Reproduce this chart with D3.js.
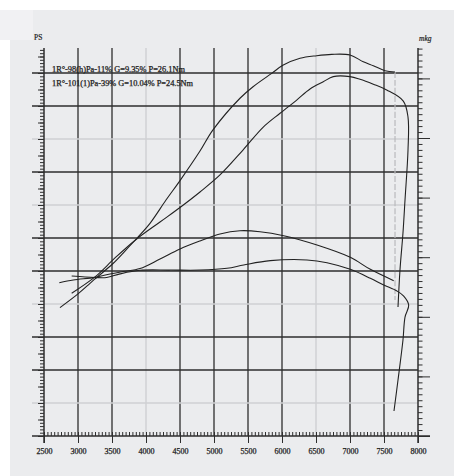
<!DOCTYPE html>
<html><head><meta charset="utf-8">
<script src="https://cdn.jsdelivr.net/npm/d3@7"></script>
<style>
html,body{margin:0;padding:0;background:#fff;}
svg{display:block;}
text{font-family:"Liberation Serif","DejaVu Serif",serif;fill:#222;}
</style></head>
<body>
<svg id="chart" width="454" height="476"></svg>
<script>
// ---------- data ----------
const rpmTicks = [2500,3000,3500,4000,4500,5000,5500,6000,6500,7000,7500,8000];
const rpmLabels = ["2500","3000","3500","4000","4500","5000","5500","6000","6500","7000","7500","8000"];
const legendLines = ["1R°-98(h)Pa-11% G=9.35% P=26.1Nm","1R°-101(1)Pa-39% G=10.04% P=24.5Nm"];
const psGrid = [2,4,6,8,10,12,14,16,18,20,22];
const lightPsGrid = [2,8,14,18];
const lightRpmGrid = [4000,6500];

// power (PS) run 1
const p1Rpm = [2735,3000,3176,3250,3519,3691,3863,4059,4294,4500,4794,4985,5382,5574,5849,6019,6265,6510,6731,7000,7196,7343,7515,7662];
const p1PS  = [7.78,8.61,9.25,9.52,10.47,11.21,11.97,12.89,14.30,15.48,17.27,18.55,20.47,21.17,21.98,22.48,22.89,23.05,23.13,23.09,22.68,22.44,22.14,22.06];
const p1DropRpm = [7662,7662,7662,7662];
const p1DropPS  = [22.06,17.33,12.48,8.24];
// power (PS) run 2
const p2Rpm = [2907,3250,3544,3863,4206,4500,4794,5088,5426,5721,5971,6216,6412,6607,6754,7000,7147,7343,7540,7784,7853,7853,7809,7779,7735,7706];
const p2PS  = [8.65,9.64,10.79,11.94,12.97,13.85,14.79,15.82,17.33,18.71,19.56,20.36,21.03,21.47,21.78,21.78,21.62,21.32,20.97,20.30,19.33,17.33,14.30,12.30,10.06,7.82];
// torque (mkg) run 1
const t1Rpm = [2725,2931,3250,3471,3662,3912,4206,4500,4794,5088,5382,5676,6025,6515,7004,7299,7643];
const t1Mkg = [2.286,2.309,2.331,2.359,2.380,2.405,2.485,2.569,2.636,2.695,2.722,2.714,2.680,2.602,2.499,2.398,2.303];
// torque (mkg) run 2
const t2Rpm = [2907,3103,3250,3422,3618,3912,4353,4794,5191,5437,5828,6368,6662,7004,7299,7496,7691,7790,7863,7809,7779,7706,7647];
const t2Mkg = [2.342,2.334,2.330,2.330,2.360,2.390,2.392,2.392,2.407,2.435,2.471,2.477,2.454,2.398,2.323,2.267,2.216,2.174,2.099,1.998,1.805,1.470,1.210];

// ---------- drawing ----------
const svg = d3.select("#chart");
const dark = "#2e2e2e", light = "#cfd0d3";

svg.append("rect").attr("x",10).attr("y",10).attr("width",444).attr("height",466).attr("fill","#ebecee");
svg.append("rect").attr("x",0).attr("y",10).attr("width",33).attr("height",30).attr("fill","#f1f1f3");

const x = d3.scaleLinear().domain([2500,8000]).range([44,418]);
const yPS = d3.scaleLinear().domain([0,23.5]).range([436,48.25]);
const yMkg = d3.scaleLinear().domain([1,4]).range([436,78.4]);
const pTop = 48, pBottom = 436, pLeft = 44, pRight = 418;

// vertical grid
const vg = svg.append("g");
rpmTicks.slice(1,-1).forEach(r=>{
  const isLight = lightRpmGrid.includes(r);
  vg.append("line").attr("x1",x(r)).attr("x2",x(r)).attr("y1",pTop).attr("y2",pBottom)
    .attr("stroke",isLight?light:dark).attr("stroke-width",isLight?1.4:1.3);
});
// horizontal grid
psGrid.forEach(v=>{
  const isLight = lightPsGrid.includes(v);
  vg.append("line").attr("x1",32).attr("x2",pRight).attr("y1",yPS(v)).attr("y2",yPS(v))
    .attr("stroke",isLight?light:dark).attr("stroke-width",isLight?1.4:1.3);
});

// x axis minor ticks (up)
svg.append("g").attr("transform",`translate(0,${pBottom})`)
  .call(d3.axisTop(x).tickValues(d3.range(2500,8001,50)).tickSize(4).tickFormat(""));
// x axis majors with labels
const xAxis = svg.append("g").attr("transform",`translate(0,${pBottom})`)
  .call(d3.axisBottom(x).tickValues(rpmTicks).tickSize(7).tickPadding(5).tickFormat((d,i)=>rpmLabels[i]));
xAxis.selectAll("text").attr("font-size",8).style("font-family","'Liberation Serif',serif")
  .attr("fill","#222").attr("stroke","#222").attr("stroke-width",0.25);

// left axis minor ticks
svg.append("g").attr("transform",`translate(${pLeft},0)`)
  .call(d3.axisLeft(yPS).tickValues(d3.range(0,23.41,0.2)).tickSize(4).tickFormat(""));
svg.append("g").attr("transform",`translate(${pLeft},0)`)
  .call(d3.axisLeft(yPS).tickValues(d3.range(0,23.41,1)).tickSize(6).tickFormat(""));

// right axis
svg.append("g").attr("transform",`translate(${pRight},0)`)
  .call(d3.axisRight(yMkg).tickValues(d3.range(1,4.2501,0.05)).tickSize(4.5).tickFormat(""));
svg.append("g").attr("transform",`translate(${pRight},0)`)
  .call(d3.axisRight(yMkg).tickValues(d3.range(1,4.01,0.5)).tickSize(12).tickFormat(""));

svg.selectAll(".domain").remove();
svg.selectAll(".tick line").attr("stroke",dark).attr("stroke-width",1);

// axis lines
svg.append("line").attr("x1",pLeft).attr("x2",pLeft).attr("y1",pTop).attr("y2",pBottom+7).attr("stroke",dark).attr("stroke-width",1.5);
svg.append("line").attr("x1",pRight).attr("x2",pRight).attr("y1",pTop).attr("y2",pBottom+7).attr("stroke",dark).attr("stroke-width",1.5);
svg.append("line").attr("x1",32).attr("x2",pRight+12).attr("y1",pBottom).attr("y2",pBottom).attr("stroke",dark).attr("stroke-width",1.5);

// axis titles
svg.append("text").attr("x",34).attr("y",40).attr("font-size",7.5).attr("stroke","#222").attr("stroke-width",0.2).text("PS");
svg.append("text").attr("x",419).attr("y",41).attr("font-size",7.5).attr("font-style","italic").attr("stroke","#222").attr("stroke-width",0.2).text("mkg");

// legend text
legendLines.forEach((t,i)=>{
  svg.append("text").attr("x",52).attr("y",72+i*14).attr("font-size",7.6)
    .attr("stroke","#222").attr("stroke-width",0.25)
    .attr("textLength",i===0?133:141).attr("lengthAdjust","spacingAndGlyphs").text(t);
});

// curves
const zip = (a,b)=>a.map((v,i)=>[v,b[i]]);
const linePS = d3.line().x(d=>x(d[0])).y(d=>yPS(d[1])).curve(d3.curveCatmullRom.alpha(0.5));
const lineMkg = d3.line().x(d=>x(d[0])).y(d=>yMkg(d[1])).curve(d3.curveCatmullRom.alpha(0.5));
const cg = svg.append("g").attr("fill","none").attr("stroke-linejoin","round");
cg.append("path").attr("d",linePS(zip(p1DropRpm,p1DropPS))).attr("stroke","#b9babd").attr("stroke-width",1.2).attr("stroke-dasharray","6,2");
cg.append("path").attr("d",linePS(zip(p1Rpm,p1PS))).attr("stroke","#222").attr("stroke-width",1.1);
cg.append("path").attr("d",linePS(zip(p2Rpm,p2PS))).attr("stroke","#222").attr("stroke-width",1.1);
cg.append("path").attr("d",lineMkg(zip(t1Rpm,t1Mkg))).attr("stroke","#222").attr("stroke-width",1.1);
cg.append("path").attr("d",lineMkg(zip(t2Rpm,t2Mkg))).attr("stroke","#222").attr("stroke-width",1.1);
</script>
</body></html>
